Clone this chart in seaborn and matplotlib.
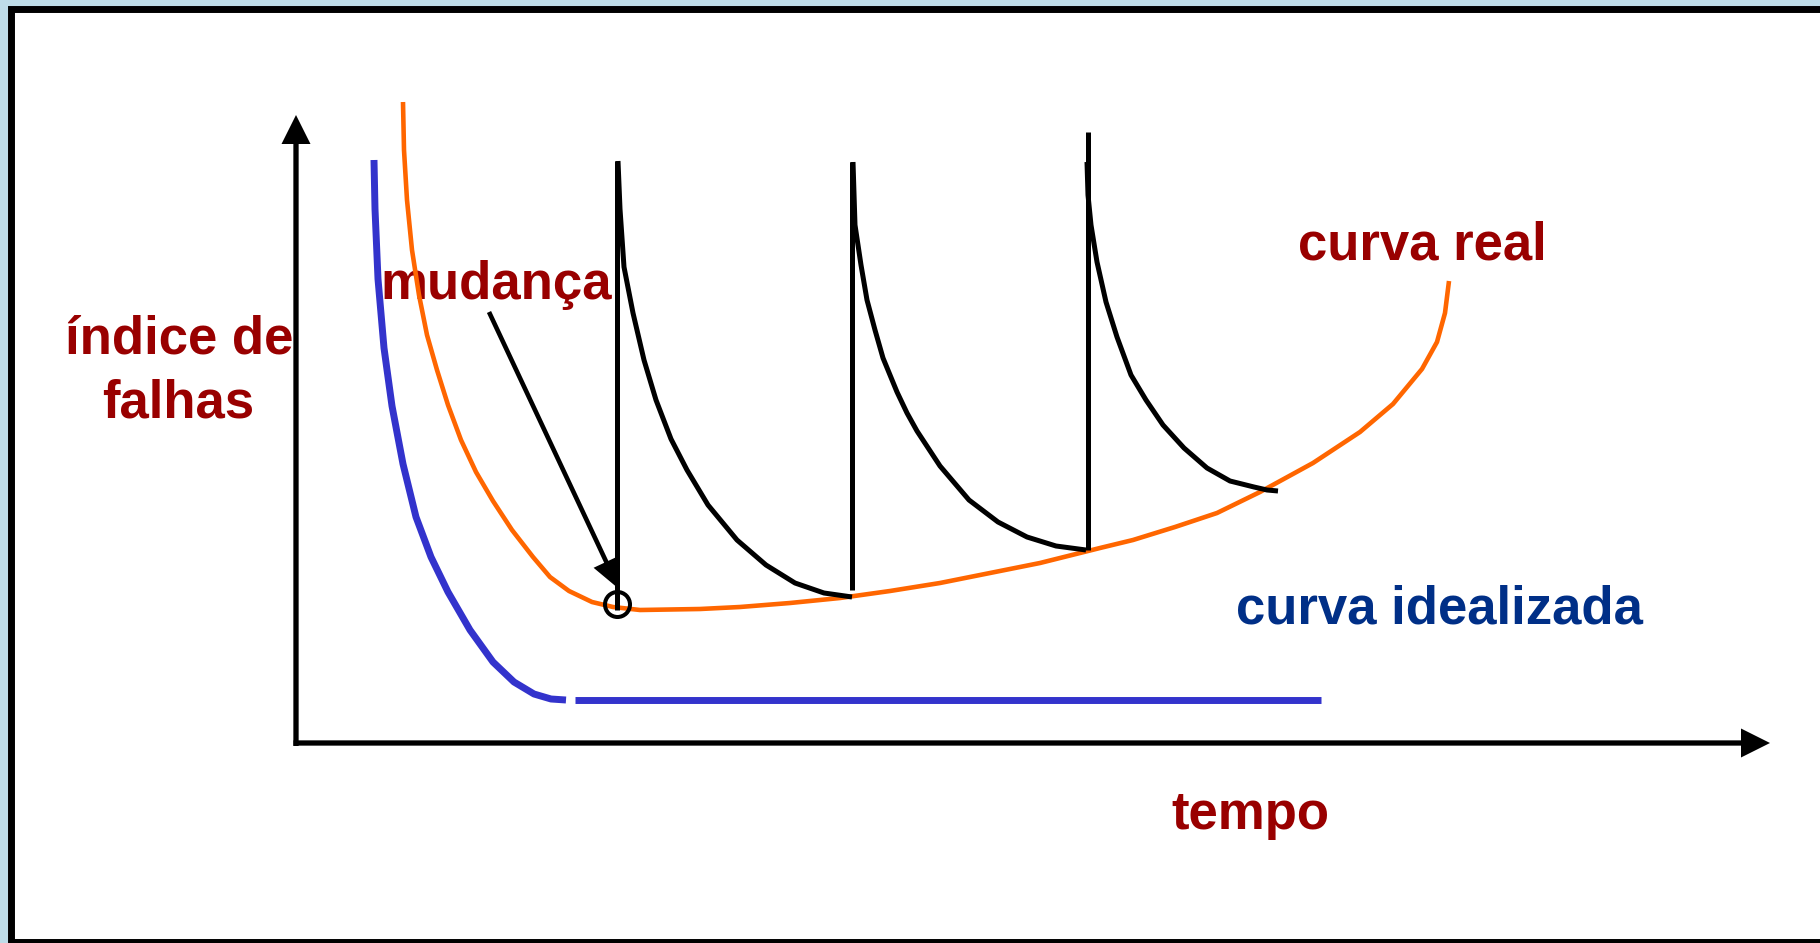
import matplotlib
matplotlib.use("Agg")
import matplotlib.pyplot as plt
import matplotlib.patches as mpatches
import seaborn as sns
import pandas as pd

# curve points (pixel units, y grows downwards)
blue_x = [374, 375, 378, 384, 392, 403, 416, 431, 448, 470, 493, 514, 534, 551, 566]
blue_y = [160, 209, 279, 348, 406, 464, 517, 557, 592, 630, 662, 682, 694, 699, 700]
blue_flat_x = [575, 1321]
blue_flat_y = [700, 700]

orange_x = [403, 404, 407, 412, 419, 427, 437, 448, 461, 476, 493, 512, 533, 550, 569, 592, 613,
            640, 700, 740, 790, 840, 890, 940, 990, 1040, 1100, 1133, 1175, 1217, 1260, 1313, 1360,
            1393, 1422, 1437, 1445, 1449]
orange_y = [102, 150, 200, 250, 295, 335, 370, 405, 440, 472, 501, 530, 557, 577, 591, 602, 607,
            610, 609, 607, 603, 598, 591, 583, 573, 563, 548, 540, 527, 513, 492, 463, 432,
            404, 369, 342, 313, 281]

# repair cycles (black): vertical jump + decay curve
vert_x = [617, 852, 1088]
vert_top = [161, 162, 132]
vert_bot = [610, 590, 550]

cyc1_x = [618, 620, 624, 633, 644, 656, 671, 687, 708, 737, 766, 795, 824, 852]
cyc1_y = [161, 209, 267, 313, 360, 400, 439, 470, 505, 540, 565, 583, 593, 597]
cyc2_x = [853, 855, 861, 867, 875, 883, 897, 907, 917, 940, 969, 998, 1027, 1056, 1086]
cyc2_y = [162, 225, 265, 300, 330, 358, 392, 413, 431, 466, 500, 522, 537, 546, 550]
cyc3_x = [1087, 1088, 1091, 1097, 1106, 1117, 1131, 1146, 1163, 1184, 1207, 1230, 1254, 1267, 1278]
cyc3_y = [162, 195, 225, 262, 302, 337, 375, 400, 425, 448, 468, 481, 487, 490, 491]

change_point = (617, 604)
arrow_start = (489, 312)
arrow_tip = (619, 589)

labels = {
    "mudanca": "mudança",
    "y1": "índice de",
    "y2": "falhas",
    "real": "curva real",
    "ideal": "curva idealizada",
    "x": "tempo",
}

RED = "#990000"
NAVY = "#002F87"
BLUE = "#3333CC"
ORANGE = "#FF6600"

sns.set_style("white")
plt.rcParams["font.family"] = ["Liberation Sans", "DejaVu Sans"]

fig = plt.figure(figsize=(18.2, 9.43), dpi=100, facecolor="#BEDCE8")
ax = fig.add_axes([0, 0, 1, 1])

# white slide with black frame
ax.add_patch(mpatches.Rectangle((10.5, 8.5), 1830, 933.5, facecolor="white",
                                edgecolor="black", lw=5, zorder=0))

# axes with arrowheads
ax.add_patch(mpatches.FancyArrow(296, 746, 0, -631, width=5.3, head_width=29, head_length=29,
                                 length_includes_head=True, color="black", lw=0, zorder=3))
ax.add_patch(mpatches.FancyArrow(293.5, 743, 1476.5, 0, width=5.3, head_width=29, head_length=29,
                                 length_includes_head=True, color="black", lw=0, zorder=3))


def line(xs, ys, color, width):
    df = pd.DataFrame({"x": xs, "y": ys})
    sns.lineplot(data=df, x="x", y="y", sort=False, estimator=None, color=color,
                 linewidth=width, ax=ax, solid_capstyle="butt", solid_joinstyle="round", zorder=4)


line(blue_x, blue_y, BLUE, 5.0)
line(blue_flat_x, blue_flat_y, BLUE, 5.0)
line(orange_x, orange_y, ORANGE, 3.3)
for vx, vt, vb in zip(vert_x, vert_top, vert_bot):
    line([vx, vx], [vt, vb], "black", 3.6)
line(cyc1_x, cyc1_y, "black", 3.6)
line(cyc2_x, cyc2_y, "black", 3.6)
line(cyc3_x, cyc3_y, "black", 3.6)

ax.plot([change_point[0]], [change_point[1]], marker="o", ms=18, mfc="none", mec="black",
        mew=2.9, zorder=6)

dx = arrow_tip[0] - arrow_start[0]
dy = arrow_tip[1] - arrow_start[1]
ax.add_patch(mpatches.FancyArrow(arrow_start[0], arrow_start[1], dx, dy, width=4.6,
                                 head_width=28, head_length=30, length_includes_head=True,
                                 color="black", lw=0, zorder=5))

fs = 38
ax.text(380, 299, labels["mudanca"], color=RED, fontsize=fs, fontweight="bold", va="baseline", ha="left")
ax.text(179, 353, labels["y1"], color=RED, fontsize=fs, fontweight="bold", va="baseline", ha="center")
ax.text(178, 418, labels["y2"], color=RED, fontsize=fs, fontweight="bold", va="baseline", ha="center")
ax.text(1298, 259, labels["real"], color=RED, fontsize=fs, fontweight="bold", va="baseline", ha="left")
ax.text(1236, 623, labels["ideal"], color=NAVY, fontsize=fs, fontweight="bold", va="baseline", ha="left")
ax.text(1171, 829, labels["x"], color=RED, fontsize=fs, fontweight="bold", va="baseline", ha="left")

ax.set_xlim(0, 1820)
ax.set_ylim(943, 0)
ax.set_xlabel("")
ax.set_ylabel("")
ax.axis("off")

fig.savefig("out.png", dpi=100, facecolor=fig.get_facecolor())
